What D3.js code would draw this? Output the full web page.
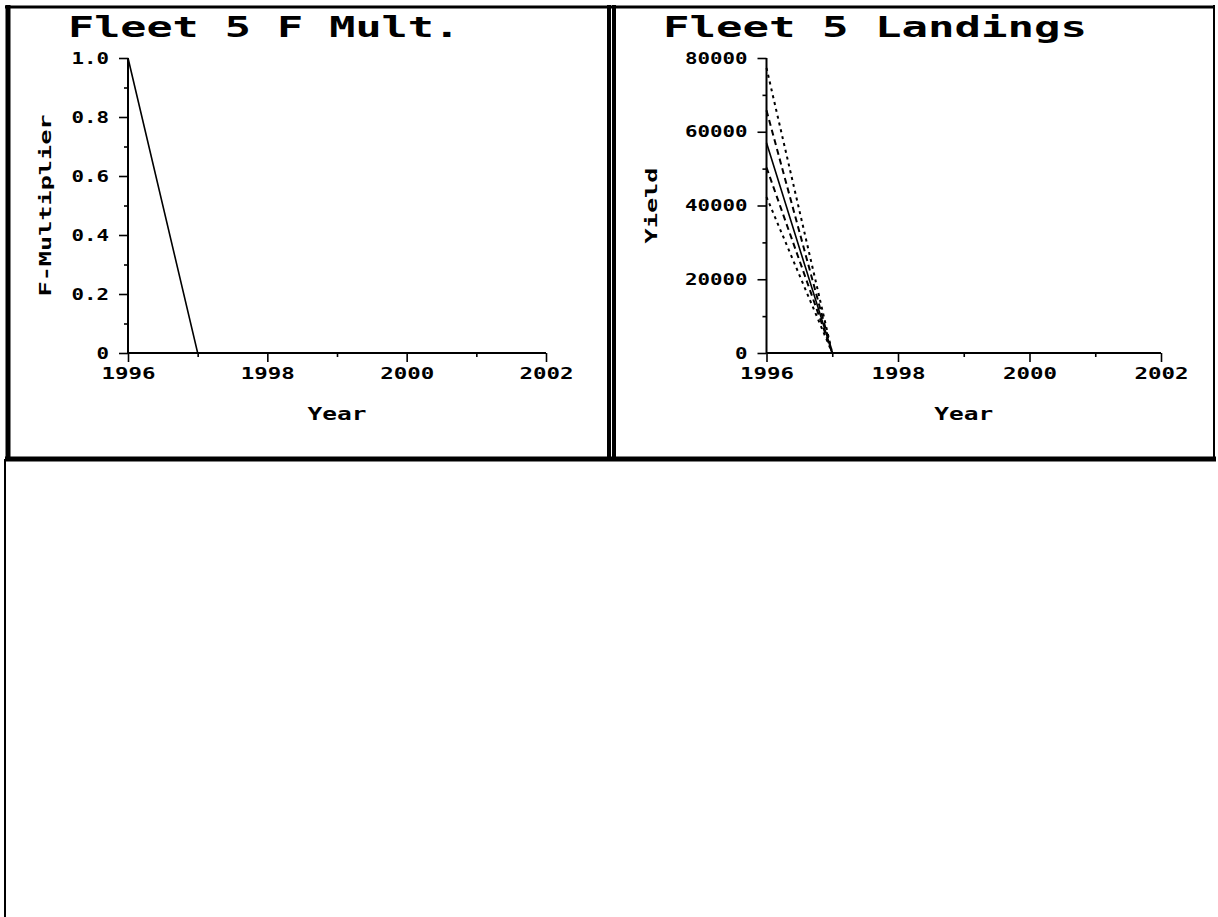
<!DOCTYPE html>
<html><head><meta charset="utf-8">
<script src="https://cdn.jsdelivr.net/npm/d3@7"></script>
<style>html,body{margin:0;padding:0;background:#fff;}svg{display:block;}</style>
</head><body>
<script>
// ---- data ----
const years = [1996, 1997, 1998, 1999, 2000, 2001, 2002];
const fMult = [1.0, 0, 0, 0, 0, 0, 0];
const yieldHigh90 = [77300, 0, 0, 0, 0, 0, 0];
const yieldHigh75 = [65800, 0, 0, 0, 0, 0, 0];
const yieldMedian = [57000, 0, 0, 0, 0, 0, 0];
const yieldLow25  = [50300, 0, 0, 0, 0, 0, 0];
const yieldLow10  = [42300, 0, 0, 0, 0, 0, 0];
const xTickYears = [1996, 1998, 2000, 2002];
const xMinorYears = [1997, 1999, 2001];
const fTicks = [0, 0.2, 0.4, 0.6, 0.8, 1.0];
const fTickLabels = ["0", "0.2", "0.4", "0.6", "0.8", "1.0"];
const fMinor = [0.1, 0.3, 0.5, 0.7, 0.9];
const yTicks = [0, 20000, 40000, 60000, 80000];
const yTickLabels = ["0", "20000", "40000", "60000", "80000"];
const yMinor = [10000, 30000, 50000, 70000];

const W = 1218, H = 917;
const svg = d3.select("body").append("svg").attr("width", W).attr("height", H);
const FONT = "'DejaVu Sans Mono', monospace";

// ---- frames ----
function line(x1, y1, x2, y2, w) {
  svg.append("line").attr("x1", x1).attr("y1", y1).attr("x2", x2).attr("y2", y2)
    .attr("stroke", "#000").attr("stroke-width", w);
}
line(5, 7, 1214, 7, 3);          // top
line(8, 5, 8, 461, 5);           // left thick
line(609, 5, 609, 461, 4);       // divider left
line(614, 5, 614, 461, 4);       // divider right
line(1214, 5, 1214, 461, 2);     // right
line(5, 459, 1216, 459, 5);      // bottom
line(5, 459, 5, 917, 2);         // lower-left continuing line

function stretchText(sel, perChar) {
  sel.each(function () {
    const t = d3.select(this);
    const s = t.text();
    if (s.length) t.attr("textLength", s.length * perChar).attr("lengthAdjust", "spacingAndGlyphs");
  });
}

function panel(cfg) {
  const g = svg.append("g");
  const x = d3.scaleLinear().domain([1996, 2002]).range([cfg.x0, cfg.x1]);
  const y = d3.scaleLinear().domain(cfg.yDomain).range([353, 58]);

  // title
  g.append("text").attr("x", cfg.titleX).attr("y", 37)
    .attr("font-family", FONT).attr("font-weight", "bold").attr("font-size", 29)
    .attr("textLength", cfg.titleLen).attr("lengthAdjust", "spacingAndGlyphs")
    .text(cfg.title);

  // y axis
  const ya = g.append("g").attr("transform", `translate(${cfg.x0},0)`)
    .call(d3.axisLeft(y).tickValues(cfg.yTicks).tickSize(9).tickPadding(10)
      .tickFormat((d, i) => cfg.yTickLabels[i]));
  g.append("g").attr("transform", `translate(${cfg.x0},0)`)
    .call(d3.axisLeft(y).tickValues(cfg.yMinor).tickSize(4).tickFormat(""))
    .select(".domain").remove();
  // x axis
  const xa = g.append("g").attr("transform", "translate(0,353)")
    .call(d3.axisBottom(x).tickValues(xTickYears).tickSize(9).tickPadding(6)
      .tickFormat(d3.format("d")));
  g.append("g").attr("transform", "translate(0,353)")
    .call(d3.axisBottom(x).tickValues(xMinorYears).tickSize(4).tickFormat(""))
    .select(".domain").remove();

  g.selectAll(".domain").attr("stroke-width", 2);
  ya.select(".domain").attr("d", `M0,${y.range()[1]}V${y.range()[0]}`);
  xa.select(".domain").attr("d", `M${x.range()[0]},0H${x.range()[1]}`);
  g.selectAll(".tick line").attr("stroke-width", 1.6);
  g.selectAll(".tick text").attr("font-family", FONT).attr("font-weight", "bold")
    .attr("font-size", 16).attr("fill", "#000");
  stretchText(ya.selectAll(".tick text"), 12.5);
  stretchText(xa.selectAll(".tick text"), 13.5);
  xa.selectAll(".tick text").attr("dy", "0.71em");

  // axis titles
  g.append("text").attr("x", (cfg.x0 + cfg.x1) / 2).attr("y", 420)
    .attr("text-anchor", "middle").attr("font-family", FONT).attr("font-weight", "bold")
    .attr("font-size", 17).attr("textLength", 59).attr("lengthAdjust", "spacingAndGlyphs")
    .text("Year");
  g.append("text").attr("transform", `translate(${cfg.yLabelX},205.5) rotate(-90)`)
    .attr("text-anchor", "middle").attr("font-family", FONT).attr("font-weight", "bold")
    .attr("font-size", 16).attr("textLength", cfg.yLabelLen).attr("lengthAdjust", "spacingAndGlyphs")
    .text(cfg.yLabel);

  const lineGen = d3.line().x((d, i) => x(years[i])).y(d => y(d));
  cfg.series.forEach(s => {
    g.append("path").datum(s.values).attr("d", lineGen)
      .attr("fill", "none").attr("stroke", "#000").attr("stroke-width", s.dash ? 2 : 1.6)
      .attr("stroke-dasharray", s.dash || null);
  });
}

panel({
  x0: 128, x1: 546, yDomain: [0, 1],
  title: "Fleet 5 F Mult.", titleX: 68, titleLen: 392,
  yTicks: fTicks, yTickLabels: fTickLabels, yMinor: fMinor,
  yLabel: "F-Multiplier", yLabelX: 51, yLabelLen: 182,
  series: [{ values: fMult }]
});

panel({
  x0: 766.5, x1: 1161, yDomain: [0, 80000],
  title: "Fleet 5 Landings", titleX: 663, titleLen: 424,
  yTicks: yTicks, yTickLabels: yTickLabels, yMinor: yMinor,
  yLabel: "Yield", yLabelX: 657, yLabelLen: 76,
  series: [
    { values: yieldHigh90, dash: "3,4" },
    { values: yieldHigh75, dash: "6,4" },
    { values: yieldMedian },
    { values: yieldLow25, dash: "6,4" },
    { values: yieldLow10, dash: "3,4" }
  ]
});
</script>
</body></html>
